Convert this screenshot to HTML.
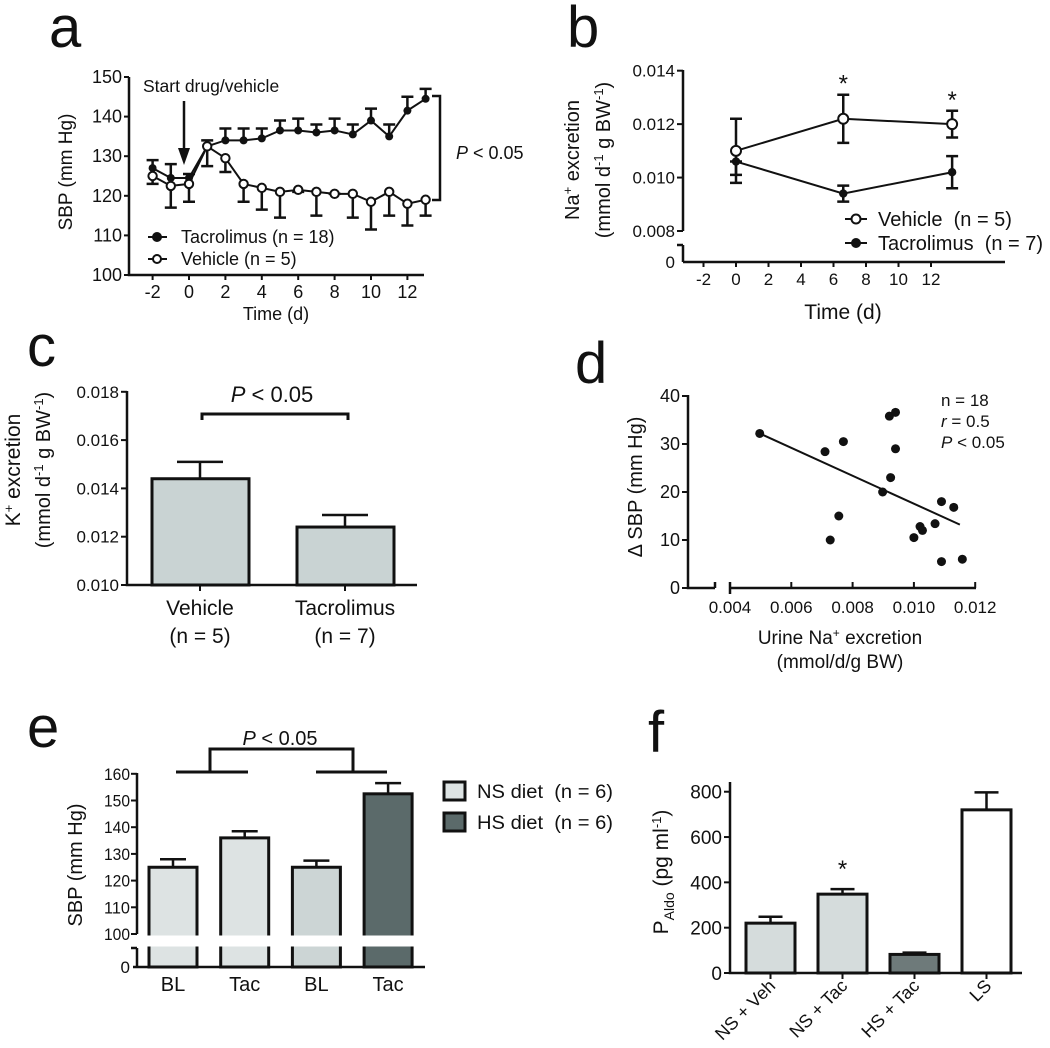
<!DOCTYPE html>
<html><head><meta charset="utf-8">
<style>
html,body{margin:0;padding:0;background:#fff;}
svg{display:block;font-family:"Liberation Sans",sans-serif;}
text{white-space:pre;}
</style></head>
<body>
<svg id="fig" width="1050" height="1048" viewBox="0 0 1050 1048" xmlns="http://www.w3.org/2000/svg"></svg>
<script>
// ---------- Panel a data ----------
const aDays=[-2,-1,0,1,2,3,4,5,6,7,8,9,10,11,12,13];
const aTac=[127,124.5,124.5,132.5,134,134,134.5,136.5,136.5,136,136.5,135.5,139,135,141.5,144.5];
const aTacErr=[129,128,125.5,134,137,137,137,139,139.5,138,139.5,138,142,138,145,147];
const aVeh=[125,122.5,123,132.5,129.5,123,122,121,121.5,121,120.5,120.5,118.5,121,118,119];
const aVehErr=[123,117,118.5,127.5,126,118.5,116.5,114.5,121,115,120.5,114.5,111.5,115,112.5,115];
const aYTicks=[100,110,120,130,140,150];
const aXTicks=[-2,0,2,4,6,8,10,12];
// ---------- Panel b data ----------
const bDays=[0,6.6,13.3];
const bVeh=[0.011,0.0122,0.0120];
const bVehHi=[0.0122,0.0131,0.0125];
const bVehLo=[0.0101,0.0113,0.0115];
const bTac=[0.0106,0.0094,0.0102];
const bTacHi=[0.0106,0.0097,0.0108];
const bTacLo=[0.0098,0.0091,0.0096];
const bYTicks=[0.008,0.010,0.012,0.014];
const bYLabels=['0.008','0.010','0.012','0.014'];
const bXTicks=[-2,0,2,4,6,8,10,12];
// ---------- Panel c data ----------
const cCats=['Vehicle','Tacrolimus'];
const cN=['(n = 5)','(n = 7)'];
const cVals=[0.0144,0.0124];
const cErr=[0.0151,0.0129];
const cYTicks=[0.010,0.012,0.014,0.016,0.018];
const cYLabels=['0.010','0.012','0.014','0.016','0.018'];
// ---------- Panel d data ----------
const dX=[0.00497,0.0071,0.0077,0.00727,0.00755,0.0092,0.0094,0.0094,0.00924,0.00898,0.0100,0.0102,0.01028,0.01069,0.0109,0.0113,0.0109,0.01158];
const dY=[32.2,28.4,30.5,10,15,35.8,36.6,29,23,20,10.5,12.8,12,13.4,18,16.8,5.5,6];
const dFitX=[0.00497,0.0115];
const dFitY=[32.2,13.2];
const dYTicks=[0,10,20,30,40];
const dXTicks=[0.004,0.006,0.008,0.010,0.012];
const dXLabels=['0.004','0.006','0.008','0.010','0.012'];
// ---------- Panel e data ----------
const eCats=['BL','Tac','BL','Tac'];
const eVals=[125,136,125,152.5];
const eErr=[128,138.5,127.5,156.5];
const eYTicks=[100,110,120,130,140,150,160];
// ---------- Panel f data ----------
const fCats=['NS + Veh','NS + Tac','HS + Tac','LS'];
const fVals=[220,348,82,720];
const fErr=[248,370,90,797];
const fYTicks=[0,200,400,600,800];

const NS='http://www.w3.org/2000/svg';
const svg=document.getElementById('fig');
function mk(tag,attrs,parent){const e=document.createElementNS(NS,tag);for(const k in attrs)e.setAttribute(k,attrs[k]);(parent||svg).appendChild(e);return e;}
function grp(){return mk('g',{});}
function txt(p,x,y,s,size,anchor,extra){const t=mk('text',Object.assign({x:x,y:y,'font-size':size,'text-anchor':anchor||'start',fill:'#111'},extra||{}),p);t.textContent=s;return t;}
const K='#111';

// panel letters
[['a',49,47],['b',567,47],['c',27,366],['d',575,383],['e',27,747],['f',648,752]].forEach(function(L){
  const t=txt(svg,L[1],L[2],L[0],58,'start');
  
  
});

// ================= Panel a =================
(function(){
const g=grp();


const xA=d=>189+18.2*d, yA=v=>275-(v-100)*3.96;
let ax=mk('path',{d:'M129,77V275H424',fill:'none',stroke:K,'stroke-width':2.5},g);


aYTicks.forEach(function(v){
  const t=mk('line',{x1:124,x2:129,y1:yA(v),y2:yA(v),stroke:K,'stroke-width':2},g);
  
  
  const l=txt(g,122,yA(v)+6,String(v),18,'end');
  
  
});
aXTicks.forEach(function(d){
  const t=mk('line',{x1:xA(d),x2:xA(d),y1:275,y2:280,stroke:K,'stroke-width':2},g);
  
  
  const l=txt(g,xA(d),298,String(d),18,'middle');
  
  
});
// lines
const pT=mk('polyline',{points:aDays.map((d,i)=>xA(d)+','+yA(aTac[i])).join(' '),fill:'none',stroke:K,'stroke-width':2},g);


const pV=mk('polyline',{points:aDays.map((d,i)=>xA(d)+','+yA(aVeh[i])).join(' '),fill:'none',stroke:K,'stroke-width':2},g);


aDays.forEach(function(d,i){
  const x=xA(d);
  const e1=mk('path',{d:'M'+x+','+yA(aTac[i])+'V'+yA(aTacErr[i])+'M'+(x-6)+','+yA(aTacErr[i])+'H'+(x+6),stroke:K,'stroke-width':2.5,fill:'none'},g);
  
  
  const e2=mk('path',{d:'M'+x+','+yA(aVeh[i])+'V'+yA(aVehErr[i])+'M'+(x-6)+','+yA(aVehErr[i])+'H'+(x+6),stroke:K,'stroke-width':2.5,fill:'none'},g);
  
  
});
aDays.forEach(function(d,i){
  const m1=mk('circle',{cx:xA(d),cy:yA(aTac[i]),r:4,fill:K},g);
  
  
  const m2=mk('circle',{cx:xA(d),cy:yA(aVeh[i]),r:4.2,fill:'#fff',stroke:K,'stroke-width':2},g);
  
  
});
// arrow + text
const ar=mk('path',{d:'M184,101V150',stroke:K,'stroke-width':2.5,fill:'none'},g);


const ah=mk('path',{d:'M178,148L190,148L184,165Z',fill:K},g);


let t=txt(g,143,92,'Start drug/vehicle',17.5,'start');


const br=mk('path',{d:'M432,96H440V200H432',stroke:K,'stroke-width':2.5,fill:'none'},g);


t=txt(g,456,159,'',18,'start');
t.innerHTML='<tspan font-style="italic">P</tspan> &lt; 0.05';


// legend
[[237,true,'Tacrolimus (n = 18)'],[259,false,'Vehicle (n = 5)']].forEach(function(r){
  const ln=mk('line',{x1:148,x2:167,y1:r[0],y2:r[0],stroke:K,'stroke-width':2},g);
  
  
  const c=mk('circle',{cx:157,cy:r[0],r:4,fill:r[1]?K:'#fff',stroke:K,'stroke-width':2},g);
  
  
  const l=txt(g,181,r[0]+6,r[2],18,'start');
  
  
});
t=txt(g,0,0,'SBP (mm Hg)',19,'middle',{transform:'translate(72,172) rotate(-90)'});


t=txt(g,276,320,'Time (d)',18,'middle');


})();

// ================= Panel b =================
(function(){
const g=grp();


const xB=d=>736+16.25*d, yB=v=>231-(v-0.008)*26720;
let ax=mk('path',{d:'M683,70V231M683,245V262M677,245H683M683,262H1005',fill:'none',stroke:K,'stroke-width':2.5},g);


bYTicks.forEach(function(v,i){
  const tk=mk('line',{x1:677,x2:683,y1:yB(v),y2:yB(v),stroke:K,'stroke-width':2},g);
  
  
  const l=txt(g,675,yB(v)+6,bYLabels[i],17,'end');
  
  
});
let z=txt(g,675,268,'0',17,'end');


bXTicks.forEach(function(d){
  const tk=mk('line',{x1:xB(d),x2:xB(d),y1:262,y2:267,stroke:K,'stroke-width':2},g);
  
  
  const l=txt(g,xB(d),285,String(d),17,'middle');
  
  
});
const lv=mk('polyline',{points:bDays.map((d,i)=>xB(d)+','+yB(bVeh[i])).join(' '),fill:'none',stroke:K,'stroke-width':2},g);


const lt=mk('polyline',{points:bDays.map((d,i)=>xB(d)+','+yB(bTac[i])).join(' '),fill:'none',stroke:K,'stroke-width':2},g);


bDays.forEach(function(d,i){
  const x=xB(d);
  const e1=mk('path',{d:'M'+x+','+yB(bVehLo[i])+'V'+yB(bVehHi[i])+'M'+(x-6)+','+yB(bVehLo[i])+'H'+(x+6)+'M'+(x-6)+','+yB(bVehHi[i])+'H'+(x+6),stroke:K,'stroke-width':2.5,fill:'none'},g);
  
  
  const e2=mk('path',{d:'M'+x+','+yB(bTacLo[i])+'V'+yB(bTacHi[i])+'M'+(x-6)+','+yB(bTacLo[i])+'H'+(x+6)+'M'+(x-6)+','+yB(bTacHi[i])+'H'+(x+6),stroke:K,'stroke-width':2.5,fill:'none'},g);
  
  
});
bDays.forEach(function(d,i){
  const m2=mk('circle',{cx:xB(d),cy:yB(bTac[i]),r:4.2,fill:K},g);
  
  
  const m1=mk('circle',{cx:xB(d),cy:yB(bVeh[i]),r:5,fill:'#fff',stroke:K,'stroke-width':2},g);
  
  
});
[1,2].forEach(function(i){
  const s=txt(g,xB(bDays[i]),yB(bVehHi[i])-3,'*',24,'middle');
  
  
});
[[219,false,'Vehicle  (n = 5)'],[243,true,'Tacrolimus  (n = 7)']].forEach(function(r){
  const ln=mk('line',{x1:845,x2:867,y1:r[0],y2:r[0],stroke:K,'stroke-width':2},g);
  
  
  const c=mk('circle',{cx:856,cy:r[0],r:r[1]?4:4.5,fill:r[1]?K:'#fff',stroke:K,'stroke-width':2},g);
  
  
  const l=txt(g,878,r[0]+7,r[2],20,'start');
  
  
});
let t=txt(g,0,0,'',20,'middle',{transform:'translate(579,160) rotate(-90)'});
t.innerHTML='Na<tspan dy="-7" font-size="13">+</tspan><tspan dy="7"> excretion</tspan>';


t=txt(g,0,0,'',20,'middle',{transform:'translate(610,160) rotate(-90)'});
t.innerHTML='(mmol d<tspan dy="-7" font-size="13">-1</tspan><tspan dy="7"> g BW</tspan><tspan dy="-7" font-size="13">-1</tspan><tspan dy="7">)</tspan>';


t=txt(g,843,319,'Time (d)',21,'middle');


})();

// ================= Panel c =================
(function(){
const g=grp();


const yC=v=>585-(v-0.010)*24150, xC=i=>200+145*i;
cCats.forEach(function(c,i){
  const x=xC(i);
  const b=mk('rect',{x:x-48,y:yC(cVals[i]),width:97,height:585-yC(cVals[i]),fill:'#c9d3d3',stroke:K,'stroke-width':3},g);
  
  
  const e=mk('path',{d:'M'+x+','+yC(cVals[i])+'V'+yC(cErr[i])+'M'+(x-23)+','+yC(cErr[i])+'H'+(x+23),stroke:K,'stroke-width':2.5,fill:'none'},g);
  
  
  const tk=mk('line',{x1:x,x2:x,y1:585,y2:591,stroke:K,'stroke-width':2},g);
  
  
  const l1=txt(g,x,615,c,21,'middle');
  
  
  const l2=txt(g,x,643,cN[i],21,'middle');
  
  
});
let ax=mk('path',{d:'M127,391V585H417',fill:'none',stroke:K,'stroke-width':2.5},g);


cYTicks.forEach(function(v,i){
  const tk=mk('line',{x1:121,x2:127,y1:yC(v),y2:yC(v),stroke:K,'stroke-width':2},g);
  
  
  const l=txt(g,119,yC(v)+6,cYLabels[i],17,'end');
  
  
});
const br=mk('path',{d:'M202,420V414H348V420',stroke:K,'stroke-width':3,fill:'none'},g);


let t=txt(g,272,402,'',22,'middle');
t.innerHTML='<tspan font-style="italic">P</tspan> &lt; 0.05';


t=txt(g,0,0,'',21,'middle',{transform:'translate(20,470) rotate(-90)'});
t.innerHTML='K<tspan dy="-7" font-size="13">+</tspan><tspan dy="7"> excretion</tspan>';


t=txt(g,0,0,'',20,'middle',{transform:'translate(50,470) rotate(-90)'});
t.innerHTML='(mmol d<tspan dy="-7" font-size="13">-1</tspan><tspan dy="7"> g BW</tspan><tspan dy="-7" font-size="13">-1</tspan><tspan dy="7">)</tspan>';


})();

// ================= Panel d =================
(function(){
const g=grp();


const yD=v=>588-v*4.8, xD=v=>730+(v-0.004)*30650;
let ax=mk('path',{d:'M688,395V588H715M715,582V588M730,582V594M730,588H976',fill:'none',stroke:K,'stroke-width':2.5},g);


dYTicks.forEach(function(v){
  const tk=mk('line',{x1:682,x2:688,y1:yD(v),y2:yD(v),stroke:K,'stroke-width':2},g);
  
  
  const l=txt(g,680,yD(v)+6,String(v),18,'end');
  
  
});
dXTicks.forEach(function(v,i){
  const tk=mk('line',{x1:xD(v),x2:xD(v),y1:582,y2:588,stroke:K,'stroke-width':2},g);
  
  
  const l=txt(g,xD(v),613,dXLabels[i],17,'middle');
  
  
});
const fl=mk('line',{x1:xD(dFitX[0]),y1:yD(dFitY[0]),x2:xD(dFitX[1]),y2:yD(dFitY[1]),stroke:K,'stroke-width':2},g);


dX.forEach(function(v,i){
  const c=mk('circle',{cx:xD(v),cy:yD(dY[i]),r:4.5,fill:K},g);
  
  
});
let t=txt(g,941,406,'n = 18',17,'start');


t=txt(g,941,427,'',17,'start');
t.innerHTML='<tspan font-style="italic">r</tspan> = 0.5';


t=txt(g,941,448,'',17,'start');
t.innerHTML='<tspan font-style="italic">P</tspan> &lt; 0.05';


t=txt(g,0,0,'Δ SBP (mm Hg)',20,'middle',{transform:'translate(642,487) rotate(-90)'});


t=txt(g,840,644,'',19,'middle');
t.innerHTML='Urine Na<tspan dy="-7" font-size="12">+</tspan><tspan dy="7"> excretion</tspan>';


t=txt(g,840,668,'(mmol/d/g BW)',19,'middle');


})();

// ================= Panel e =================
(function(){
const g=grp();


const fills=['#dde3e3','#dde3e3','#ccd5d5','#5b6a6a'];
const yE=v=>934-(v-100)*2.67, xE=i=>173+71.7*i;
eCats.forEach(function(c,i){
  const x=xE(i);
  const b=mk('rect',{x:x-24,y:yE(eVals[i]),width:48,height:967-yE(eVals[i]),fill:fills[i],stroke:K,'stroke-width':3},g);
  
  
  const e=mk('path',{d:'M'+x+','+yE(eVals[i])+'V'+yE(eErr[i])+'M'+(x-13)+','+yE(eErr[i])+'H'+(x+13),stroke:K,'stroke-width':2.5,fill:'none'},g);
  
  
  const l=txt(g,x,991,c,20,'middle');
  
  
});
const gap=mk('rect',{x:138,y:935.5,width:290,height:11,fill:'#fff'},g);


let ax=mk('path',{d:'M137,773V934M137,948V967M131,948H137M133,967H425',fill:'none',stroke:K,'stroke-width':2.5},g);


eYTicks.forEach(function(v){
  const tk=mk('line',{x1:131,x2:137,y1:yE(v),y2:yE(v),stroke:K,'stroke-width':2},g);
  
  
  const l=txt(g,130,yE(v)+6,String(v),17,'end',{'textLength':26,'lengthAdjust':'spacingAndGlyphs'});
  
  
});
let z=txt(g,130,973,'0',17,'end');


const br=mk('path',{d:'M176,772H248M210,772V749H353V772M316,772H387',stroke:K,'stroke-width':3,fill:'none'},g);


let t=txt(g,280,745,'',20,'middle');
t.innerHTML='<tspan font-style="italic">P</tspan> &lt; 0.05';


t=txt(g,0,0,'SBP (mm Hg)',20,'middle',{transform:'translate(82,865) rotate(-90)'});


[[782,'#dde3e3','NS diet  (n = 6)'],[813,'#5b6a6a','HS diet  (n = 6)']].forEach(function(r){
  const b=mk('rect',{x:444,y:r[0],width:21,height:18,fill:r[1],stroke:K,'stroke-width':3},g);
  
  
  const l=txt(g,477,r[0]+16,r[2],19,'start',{'textLength':136,'lengthAdjust':'spacingAndGlyphs'});
  
  
});
})();

// ================= Panel f =================
(function(){
const g=grp();


const fills=['#d5dcdc','#d5dcdc','#6e7a7a','#ffffff'];
const yF=v=>973-v*0.2266, xF=i=>770.5+72*i;
fCats.forEach(function(c,i){
  const x=xF(i);
  const b=mk('rect',{x:x-24.5,y:yF(fVals[i]),width:49,height:973-yF(fVals[i]),fill:fills[i],stroke:K,'stroke-width':3},g);
  
  
  const e=mk('path',{d:'M'+x+','+yF(fVals[i])+'V'+yF(fErr[i])+'M'+(x-12)+','+yF(fErr[i])+'H'+(x+12),stroke:K,'stroke-width':2.5,fill:'none'},g);
  
  
  const tk=mk('line',{x1:x,x2:x,y1:973,y2:979,stroke:K,'stroke-width':2},g);
  
  
  const l=txt(g,0,0,c,18,'end',{transform:'translate('+(x+6)+',987) rotate(-45)'});
  
  
});
let ax=mk('path',{d:'M730,782V973H1022',fill:'none',stroke:K,'stroke-width':2.5},g);


fYTicks.forEach(function(v){
  const tk=mk('line',{x1:724,x2:730,y1:yF(v),y2:yF(v),stroke:K,'stroke-width':2},g);
  
  
  const l=txt(g,722,yF(v)+7,String(v),19,'end');
  
  
});
const s=txt(g,xF(1),yF(fErr[1])-12,'*',24,'middle');


let t=txt(g,0,0,'',21,'middle',{transform:'translate(668,872) rotate(-90)'});
t.innerHTML='P<tspan dy="6" font-size="14">Aldo</tspan><tspan dy="-6"> (pg ml</tspan><tspan dy="-7" font-size="13">-1</tspan><tspan dy="7">)</tspan>';


})();
</script>
</body></html>
